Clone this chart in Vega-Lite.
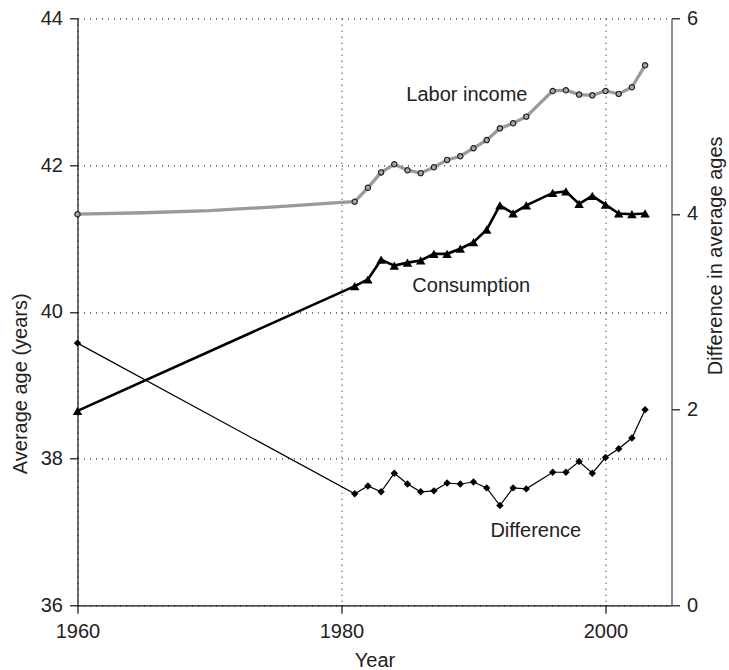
{
  "$schema": "https://vega.github.io/schema/vega-lite/v6.json",
  "width": 594,
  "height": 587,
  "autosize": {"type": "none"},
  "padding": {"left": 77.5, "top": 18.3, "right": 57.5, "bottom": 64.7},
  "background": "white",
  "config": {
    "view": {"stroke": null},
    "font": "Liberation Sans",
    "axis": {
      "domainColor": "#111",
      "domainWidth": 1.2,
      "tickColor": "#111",
      "tickWidth": 1.2,
      "tickSize": 8,
      "labelFontSize": 20,
      "labelColor": "#222",
      "labelPadding": 7,
      "labelFlush": false,
      "titleFontSize": 20,
      "titleFontWeight": "normal",
      "titleColor": "#222",
      "gridColor": "#333",
      "gridDash": [1, 5],
      "gridWidth": 1.2
    }
  },
  "datasets": {
    "series": [
      {"series": "Labor income", "year": 1960, "value": 41.33, "marked": true},
      {"series": "Labor income", "year": 1965, "value": 41.35, "marked": false},
      {"series": "Labor income", "year": 1970, "value": 41.38, "marked": false},
      {"series": "Labor income", "year": 1975, "value": 41.43, "marked": false},
      {"series": "Labor income", "year": 1980, "value": 41.49, "marked": false},
      {"series": "Labor income", "year": 1981, "value": 41.50, "marked": true},
      {"series": "Labor income", "year": 1982, "value": 41.69, "marked": true},
      {"series": "Labor income", "year": 1983, "value": 41.90, "marked": true},
      {"series": "Labor income", "year": 1984, "value": 42.01, "marked": true},
      {"series": "Labor income", "year": 1985, "value": 41.93, "marked": true},
      {"series": "Labor income", "year": 1986, "value": 41.89, "marked": true},
      {"series": "Labor income", "year": 1987, "value": 41.97, "marked": true},
      {"series": "Labor income", "year": 1988, "value": 42.07, "marked": true},
      {"series": "Labor income", "year": 1989, "value": 42.12, "marked": true},
      {"series": "Labor income", "year": 1990, "value": 42.23, "marked": true},
      {"series": "Labor income", "year": 1991, "value": 42.34, "marked": true},
      {"series": "Labor income", "year": 1992, "value": 42.50, "marked": true},
      {"series": "Labor income", "year": 1993, "value": 42.57, "marked": true},
      {"series": "Labor income", "year": 1994, "value": 42.66, "marked": true},
      {"series": "Labor income", "year": 1996, "value": 43.01, "marked": true},
      {"series": "Labor income", "year": 1997, "value": 43.02, "marked": true},
      {"series": "Labor income", "year": 1998, "value": 42.96, "marked": true},
      {"series": "Labor income", "year": 1999, "value": 42.95, "marked": true},
      {"series": "Labor income", "year": 2000, "value": 43.01, "marked": true},
      {"series": "Labor income", "year": 2001, "value": 42.97, "marked": true},
      {"series": "Labor income", "year": 2002, "value": 43.06, "marked": true},
      {"series": "Labor income", "year": 2003, "value": 43.36, "marked": true},
      {"series": "Consumption", "year": 1960, "value": 38.65, "marked": true},
      {"series": "Consumption", "year": 1981, "value": 40.35, "marked": true},
      {"series": "Consumption", "year": 1982, "value": 40.44, "marked": true},
      {"series": "Consumption", "year": 1983, "value": 40.71, "marked": true},
      {"series": "Consumption", "year": 1984, "value": 40.63, "marked": true},
      {"series": "Consumption", "year": 1985, "value": 40.67, "marked": true},
      {"series": "Consumption", "year": 1986, "value": 40.70, "marked": true},
      {"series": "Consumption", "year": 1987, "value": 40.79, "marked": true},
      {"series": "Consumption", "year": 1988, "value": 40.79, "marked": true},
      {"series": "Consumption", "year": 1989, "value": 40.86, "marked": true},
      {"series": "Consumption", "year": 1990, "value": 40.95, "marked": true},
      {"series": "Consumption", "year": 1991, "value": 41.12, "marked": true},
      {"series": "Consumption", "year": 1992, "value": 41.45, "marked": true},
      {"series": "Consumption", "year": 1993, "value": 41.34, "marked": true},
      {"series": "Consumption", "year": 1994, "value": 41.45, "marked": true},
      {"series": "Consumption", "year": 1996, "value": 41.62, "marked": true},
      {"series": "Consumption", "year": 1997, "value": 41.64, "marked": true},
      {"series": "Consumption", "year": 1998, "value": 41.47, "marked": true},
      {"series": "Consumption", "year": 1999, "value": 41.58, "marked": true},
      {"series": "Consumption", "year": 2000, "value": 41.46, "marked": true},
      {"series": "Consumption", "year": 2001, "value": 41.34, "marked": true},
      {"series": "Consumption", "year": 2002, "value": 41.33, "marked": true},
      {"series": "Consumption", "year": 2003, "value": 41.34, "marked": true},
      {"series": "Difference", "year": 1960, "value": 2.68, "marked": true},
      {"series": "Difference", "year": 1981, "value": 1.14, "marked": true},
      {"series": "Difference", "year": 1982, "value": 1.22, "marked": true},
      {"series": "Difference", "year": 1983, "value": 1.16, "marked": true},
      {"series": "Difference", "year": 1984, "value": 1.35, "marked": true},
      {"series": "Difference", "year": 1985, "value": 1.24, "marked": true},
      {"series": "Difference", "year": 1986, "value": 1.16, "marked": true},
      {"series": "Difference", "year": 1987, "value": 1.17, "marked": true},
      {"series": "Difference", "year": 1988, "value": 1.25, "marked": true},
      {"series": "Difference", "year": 1989, "value": 1.24, "marked": true},
      {"series": "Difference", "year": 1990, "value": 1.26, "marked": true},
      {"series": "Difference", "year": 1991, "value": 1.20, "marked": true},
      {"series": "Difference", "year": 1992, "value": 1.02, "marked": true},
      {"series": "Difference", "year": 1993, "value": 1.20, "marked": true},
      {"series": "Difference", "year": 1994, "value": 1.19, "marked": true},
      {"series": "Difference", "year": 1996, "value": 1.36, "marked": true},
      {"series": "Difference", "year": 1997, "value": 1.36, "marked": true},
      {"series": "Difference", "year": 1998, "value": 1.47, "marked": true},
      {"series": "Difference", "year": 1999, "value": 1.35, "marked": true},
      {"series": "Difference", "year": 2000, "value": 1.51, "marked": true},
      {"series": "Difference", "year": 2001, "value": 1.60, "marked": true},
      {"series": "Difference", "year": 2002, "value": 1.71, "marked": true},
      {"series": "Difference", "year": 2003, "value": 2.00, "marked": true}
    ],
    "labels": [
      {"label": "Labor income", "year": 1989.5, "value": 42.96},
      {"label": "Consumption", "year": 1989.83, "value": 40.35},
      {"label": "Difference", "year": 1994.72, "value": 37.01}
    ]
  },
  "data": {"name": "series"},
  "encoding": {
    "x": {
      "field": "year",
      "type": "quantitative",
      "scale": {"domain": [1960, 2005], "nice": false, "zero": false},
      "axis": {
        "values": [1960, 1980, 2000],
        "format": "d",
        "grid": true,
        "labelPadding": 8,
        "title": "Year",
        "titleBaseline": "alphabetic",
        "titleY": 61
      }
    }
  },
  "layer": [
    {
      "encoding": {
        "y": {
          "field": "value",
          "type": "quantitative",
          "scale": {"domain": [36, 44], "nice": false, "zero": false},
          "axis": {
            "values": [36, 38, 40, 42, 44],
            "grid": true,
            "title": "Average age (years)",
            "titleAngle": 270,
            "titleAlign": "center",
            "titleBaseline": "middle",
            "titleX": -57.5,
            "titleY": 365
          }
        }
      },
      "layer": [
        {
          "transform": [{"filter": "datum.series === 'Labor income'"}],
          "mark": {"type": "line", "color": "#9a9a9a", "strokeWidth": 3.3},
          "encoding": {}
        },
        {
          "transform": [{"filter": "datum.series === 'Labor income' && datum.marked"}],
          "mark": {"type": "point", "shape": "circle", "filled": true, "fill": "#a8a8a8", "stroke": "#222", "strokeWidth": 1.2, "size": 28, "opacity": 1},
          "encoding": {}
        },
        {
          "transform": [{"filter": "datum.series === 'Consumption'"}],
          "mark": {"type": "line", "color": "#000", "strokeWidth": 2.6},
          "encoding": {}
        },
        {
          "transform": [{"filter": "datum.series === 'Consumption'"}],
          "mark": {"type": "point", "shape": "triangle-up", "filled": true, "color": "#000", "size": 90, "opacity": 1},
          "encoding": {}
        },
        {
          "data": {"name": "labels"},
          "mark": {"type": "text", "fontSize": 20, "color": "#222", "align": "center", "baseline": "middle"},
          "encoding": {"text": {"field": "label"}}
        }
      ]
    },
    {
      "encoding": {
        "y": {
          "field": "value",
          "type": "quantitative",
          "scale": {"domain": [0, 6], "nice": false, "zero": false},
          "axis": {
            "orient": "right",
            "values": [0, 2, 4, 6],
            "grid": false,
            "domainColor": "#444",
            "title": "Difference in average ages",
            "titleAngle": 270,
            "titleAlign": "center",
            "titleBaseline": "middle",
            "titleX": 44,
            "titleY": 237
          }
        }
      },
      "layer": [
        {
          "transform": [{"filter": "datum.series === 'Difference'"}],
          "mark": {"type": "line", "color": "#000", "strokeWidth": 1.2},
          "encoding": {}
        },
        {
          "transform": [{"filter": "datum.series === 'Difference'"}],
          "mark": {"type": "point", "shape": "diamond", "filled": true, "color": "#000", "size": 55, "opacity": 1},
          "encoding": {}
        }
      ]
    }
  ],
  "resolve": {"scale": {"y": "independent"}}
}
